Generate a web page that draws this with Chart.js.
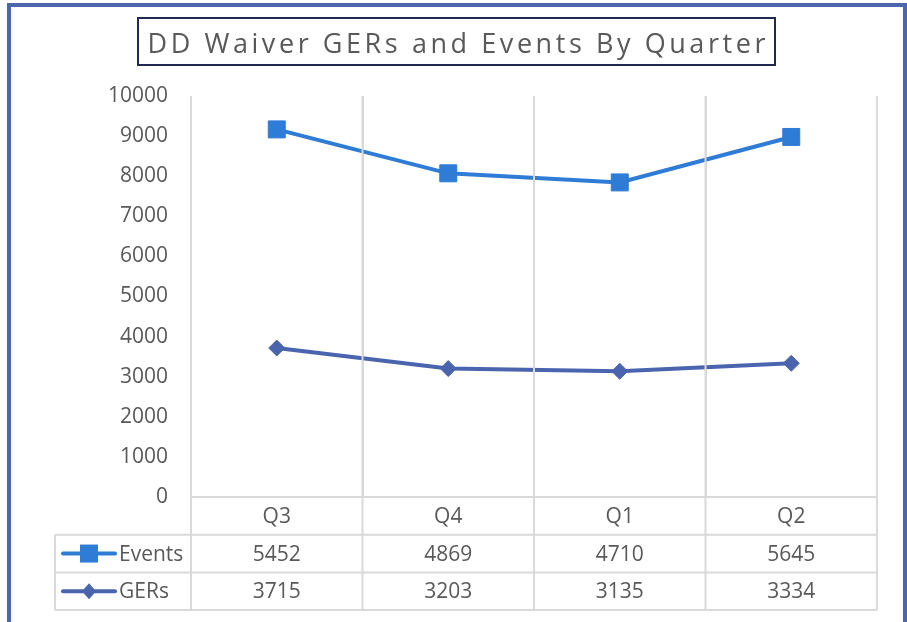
<!DOCTYPE html>
<html>
<head>
<meta charset="utf-8">
<title>DD Waiver GERs and Events By Quarter</title>
<script src="https://cdn.jsdelivr.net/npm/chart.js@4/dist/chart.umd.min.js"></script>
<style>
  html, body { margin: 0; padding: 0; background: #fff; }
  #wrap { width: 907px; height: 622px; }
</style>
</head>
<body>
<div id="wrap"><canvas id="chart" width="907" height="622"></canvas></div>
<script>
// Chart data
const chartTitle = 'DD Waiver GERs and Events By Quarter';
const quarters = ['Q3', 'Q4', 'Q1', 'Q2'];
const gers = [3715, 3203, 3135, 3334];
const events = [5452, 4869, 4710, 5645];
const yTicks = [0, 1000, 2000, 3000, 4000, 5000, 6000, 7000, 8000, 9000, 10000];

const EVENTS_COLOR = '#2E7CD6';
const GERS_COLOR = '#4A65AE';
const TEXT_COLOR = '#595959';
const GRID_COLOR = '#D9D9D9';
const FONT = '"Open Sans", "Liberation Sans", sans-serif';

// rows of the data table under the plot, in display order
const tableRows = [
  { label: 'Events', values: events, color: EVENTS_COLOR, marker: 'square' },
  { label: 'GERs', values: gers, color: GERS_COLOR, marker: 'diamond' },
];

function drawMarker(ctx, kind, x, y, color) {
  ctx.fillStyle = color;
  if (kind === 'square') {
    ctx.fillRect(x - 9, y - 9, 18, 18);
  } else {
    ctx.beginPath();
    ctx.moveTo(x, y - 8);
    ctx.lineTo(x + 7, y);
    ctx.lineTo(x, y + 8);
    ctx.lineTo(x - 7, y);
    ctx.closePath();
    ctx.fill();
  }
}

const decorPlugin = {
  id: 'decor',
  beforeDraw(chart) {
    const ctx = chart.ctx;
    ctx.save();
    ctx.fillStyle = '#fff';
    ctx.fillRect(0, 0, chart.width, chart.height);
    ctx.restore();
  },
  afterDraw(chart) {
    const ctx = chart.ctx;
    const xs = chart.scales.x;
    const area = chart.chartArea;
    const n = quarters.length;
    const step = (xs.getPixelForValue(1) - xs.getPixelForValue(0));
    const edges = [];
    for (let i = 0; i <= n; i++) edges.push(xs.getPixelForValue(0) - step / 2 + i * step);

    const rowH = 37.7;
    const r0 = area.bottom, r1 = r0 + rowH, r2 = r1 + rowH, r3 = r2 + rowH;
    const tableLeft = 55;

    ctx.save();
    ctx.strokeStyle = GRID_COLOR;
    ctx.lineWidth = 2;
    ctx.beginPath();
    // vertical lines continuing down through the table
    edges.forEach(x => { ctx.moveTo(x, area.top); ctx.lineTo(x, r3); });
    ctx.moveTo(tableLeft, r1); ctx.lineTo(tableLeft, r3);
    // horizontal table lines
    ctx.moveTo(edges[0], r0); ctx.lineTo(edges[n], r0);
    [r1, r2, r3].forEach(y => { ctx.moveTo(tableLeft, y); ctx.lineTo(edges[n], y); });
    ctx.stroke();

    // table text
    ctx.fillStyle = TEXT_COLOR;
    ctx.font = '21px ' + FONT;
    ctx.textAlign = 'center';
    ctx.textBaseline = 'middle';
    quarters.forEach((q, i) => ctx.fillText(q, (edges[i] + edges[i + 1]) / 2, (r0 + r1) / 2 + 1));
    tableRows.forEach((row, ri) => {
      const yc = (ri === 0 ? (r1 + r2) / 2 : (r2 + r3) / 2) + 1;
      row.values.forEach((v, i) => {
        ctx.fillStyle = TEXT_COLOR;
        ctx.fillText(String(v), (edges[i] + edges[i + 1]) / 2, yc);
      });
      // legend key
      ctx.strokeStyle = row.color;
      ctx.lineWidth = 4;
      ctx.lineCap = 'round';
      ctx.beginPath();
      ctx.moveTo(63, yc - 1); ctx.lineTo(115, yc - 1);
      ctx.stroke();
      drawMarker(ctx, row.marker, 89, yc - 1, row.color);
      ctx.fillStyle = TEXT_COLOR;
      ctx.textAlign = 'left';
      ctx.fillText(row.label, 119, yc);
      ctx.textAlign = 'center';
    });

    // title box
    const bx = 138, by = 18, bw = 637, bh = 47;
    ctx.strokeStyle = '#1F2A4E';
    ctx.lineWidth = 2;
    ctx.strokeRect(bx, by, bw, bh);
    ctx.fillStyle = TEXT_COLOR;
    ctx.font = '27px ' + FONT;
    const natural = ctx.measureText(chartTitle).width;
    const spacing = Math.max(0, (618 - natural) / (chartTitle.length - 1));
    ctx.letterSpacing = spacing + 'px';
    ctx.textAlign = 'left';
    const w = ctx.measureText(chartTitle).width - spacing;
    ctx.fillText(chartTitle, bx + bw / 2 - w / 2, by + bh / 2 + 4);
    ctx.letterSpacing = '0px';

    // outer frame
    ctx.strokeStyle = '#4A67AD';
    ctx.lineWidth = 4;
    ctx.strokeRect(9, 5, 896, 700);
    ctx.restore();
  }
};

new Chart(document.getElementById('chart'), {
  type: 'line',
  data: {
    labels: quarters,
    datasets: [
      {
        label: 'GERs',
        data: gers,
        borderColor: GERS_COLOR,
        backgroundColor: GERS_COLOR,
        borderWidth: 4,
        pointStyle: 'rectRot',
        pointRadius: 8,
        pointBorderWidth: 1,
        tension: 0,
        fill: false,
      },
      {
        label: 'Events',
        data: events,
        borderColor: EVENTS_COLOR,
        backgroundColor: EVENTS_COLOR,
        borderWidth: 4,
        pointStyle: 'rect',
        pointRadius: 12,
        pointBorderWidth: 1,
        tension: 0,
        fill: false,
      },
    ],
  },
  options: {
    responsive: false,
    animation: false,
    layout: { padding: { top: 96, right: 30, bottom: 125, left: 0 } },
    plugins: {
      legend: { display: false },
      title: { display: false },
      tooltip: { enabled: false },
    },
    scales: {
      x: {
        offset: true,
        ticks: { display: false },
        grid: { offset: true, color: GRID_COLOR, lineWidth: 2, drawTicks: false },
        border: { display: false },
      },
      y: {
        stacked: true,
        min: 0,
        max: 10000,
        afterFit: s => { s.width = 191; },
        afterBuildTicks: s => { s.ticks = yTicks.map(v => ({ value: v })); },
        ticks: {
          color: TEXT_COLOR,
          font: { family: FONT, size: 21 },
          padding: 23,
          callback: v => String(v),
        },
        grid: { display: false, drawTicks: false },
        border: { display: false },
      },
    },
  },
  plugins: [decorPlugin],
});
</script>
</body>
</html>
